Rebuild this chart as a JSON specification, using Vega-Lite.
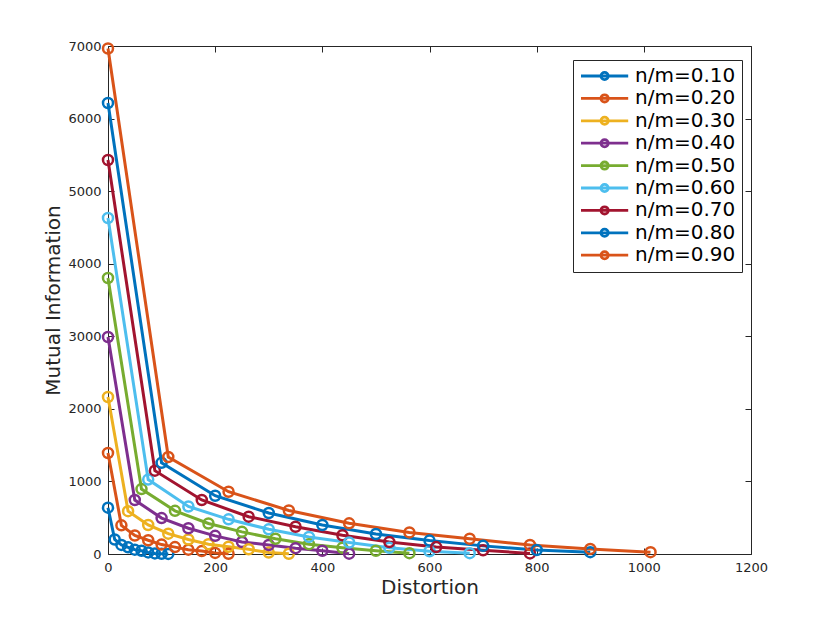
{
  "$schema": "https://vega.github.io/schema/vega-lite/v6.json",
  "width": 643,
  "height": 508,
  "autosize": "none",
  "padding": {"left": 108, "top": 46, "right": 79, "bottom": 69},
  "background": "white",
  "config": {
    "font": "DejaVu Sans",
    "view": {"stroke": null},
    "axis": {
      "grid": false,
      "domainColor": "#262626",
      "tickColor": "#262626",
      "labelColor": "#262626",
      "titleColor": "#262626",
      "labelFontSize": 13,
      "titleFontSize": 20,
      "titleFontWeight": "normal",
      "tickSize": -6,
      "labelPadding": 13,
      "labelFlush": false,
      "format": "d"
    },
    "legend": {
      "orient": "none",
      "legendX": 465,
      "legendY": 14,
      "title": null,
      "strokeColor": "#262626",
      "fillColor": "white",
      "padding": 6,
      "labelFontSize": 20,
      "labelColor": "black",
      "symbolType": "M-1,0H4.9M2.4,0A0.45,0.45 0 1,1 1.5,0A0.45,0.45 0 1,1 2.4,0",
      "symbolSize": 256,
      "symbolStrokeWidth": 2.8,
      "symbolFillColor": "transparent",
      "labelOffset": 36,
      "rowPadding": 2.4
    }
  },
  "data": {
    "values": [
      {"series": "n/m=0.10", "d": 0, "mi": 638},
      {"series": "n/m=0.10", "d": 12.5, "mi": 200},
      {"series": "n/m=0.10", "d": 25, "mi": 125},
      {"series": "n/m=0.10", "d": 37.5, "mi": 92},
      {"series": "n/m=0.10", "d": 50, "mi": 60},
      {"series": "n/m=0.10", "d": 62.5, "mi": 45},
      {"series": "n/m=0.10", "d": 75, "mi": 22},
      {"series": "n/m=0.10", "d": 87.5, "mi": 8},
      {"series": "n/m=0.10", "d": 100, "mi": 3},
      {"series": "n/m=0.10", "d": 112.5, "mi": 1},
      {"series": "n/m=0.20", "d": 0, "mi": 1392},
      {"series": "n/m=0.20", "d": 25, "mi": 395},
      {"series": "n/m=0.20", "d": 50, "mi": 255},
      {"series": "n/m=0.20", "d": 75, "mi": 190},
      {"series": "n/m=0.20", "d": 100, "mi": 130},
      {"series": "n/m=0.20", "d": 125, "mi": 95},
      {"series": "n/m=0.20", "d": 150, "mi": 60},
      {"series": "n/m=0.20", "d": 175, "mi": 40},
      {"series": "n/m=0.20", "d": 200, "mi": 15},
      {"series": "n/m=0.20", "d": 225, "mi": 3},
      {"series": "n/m=0.30", "d": 0, "mi": 2163},
      {"series": "n/m=0.30", "d": 37.5, "mi": 590},
      {"series": "n/m=0.30", "d": 75, "mi": 400},
      {"series": "n/m=0.30", "d": 112.5, "mi": 280},
      {"series": "n/m=0.30", "d": 150, "mi": 200},
      {"series": "n/m=0.30", "d": 187.5, "mi": 135},
      {"series": "n/m=0.30", "d": 225, "mi": 100},
      {"series": "n/m=0.30", "d": 262.5, "mi": 65},
      {"series": "n/m=0.30", "d": 300, "mi": 20},
      {"series": "n/m=0.30", "d": 337.5, "mi": 3},
      {"series": "n/m=0.40", "d": 0, "mi": 2990},
      {"series": "n/m=0.40", "d": 50, "mi": 744},
      {"series": "n/m=0.40", "d": 100, "mi": 495},
      {"series": "n/m=0.40", "d": 150, "mi": 355},
      {"series": "n/m=0.40", "d": 200, "mi": 250},
      {"series": "n/m=0.40", "d": 250, "mi": 165},
      {"series": "n/m=0.40", "d": 300, "mi": 124},
      {"series": "n/m=0.40", "d": 350, "mi": 80},
      {"series": "n/m=0.40", "d": 400, "mi": 45},
      {"series": "n/m=0.40", "d": 450, "mi": 5},
      {"series": "n/m=0.50", "d": 0, "mi": 3803},
      {"series": "n/m=0.50", "d": 62.5, "mi": 895},
      {"series": "n/m=0.50", "d": 125, "mi": 595},
      {"series": "n/m=0.50", "d": 187.5, "mi": 420},
      {"series": "n/m=0.50", "d": 250, "mi": 305},
      {"series": "n/m=0.50", "d": 312.5, "mi": 210},
      {"series": "n/m=0.50", "d": 375, "mi": 135},
      {"series": "n/m=0.50", "d": 437.5, "mi": 85},
      {"series": "n/m=0.50", "d": 500, "mi": 45},
      {"series": "n/m=0.50", "d": 562.5, "mi": 12},
      {"series": "n/m=0.60", "d": 0, "mi": 4630},
      {"series": "n/m=0.60", "d": 75, "mi": 1025},
      {"series": "n/m=0.60", "d": 150, "mi": 655},
      {"series": "n/m=0.60", "d": 225, "mi": 478},
      {"series": "n/m=0.60", "d": 300, "mi": 340},
      {"series": "n/m=0.60", "d": 375, "mi": 235},
      {"series": "n/m=0.60", "d": 450, "mi": 158},
      {"series": "n/m=0.60", "d": 525, "mi": 85},
      {"series": "n/m=0.60", "d": 600, "mi": 38},
      {"series": "n/m=0.60", "d": 675, "mi": 12},
      {"series": "n/m=0.70", "d": 0, "mi": 5429},
      {"series": "n/m=0.70", "d": 87.5, "mi": 1148},
      {"series": "n/m=0.70", "d": 175, "mi": 744},
      {"series": "n/m=0.70", "d": 262.5, "mi": 514},
      {"series": "n/m=0.70", "d": 350, "mi": 376},
      {"series": "n/m=0.70", "d": 437.5, "mi": 258},
      {"series": "n/m=0.70", "d": 525, "mi": 165},
      {"series": "n/m=0.70", "d": 612.5, "mi": 95},
      {"series": "n/m=0.70", "d": 700, "mi": 52},
      {"series": "n/m=0.70", "d": 787.5, "mi": 8},
      {"series": "n/m=0.80", "d": 0, "mi": 6215},
      {"series": "n/m=0.80", "d": 100, "mi": 1256},
      {"series": "n/m=0.80", "d": 200, "mi": 803},
      {"series": "n/m=0.80", "d": 300, "mi": 565},
      {"series": "n/m=0.80", "d": 400, "mi": 400},
      {"series": "n/m=0.80", "d": 500, "mi": 276},
      {"series": "n/m=0.80", "d": 600, "mi": 185},
      {"series": "n/m=0.80", "d": 700, "mi": 112},
      {"series": "n/m=0.80", "d": 800, "mi": 55},
      {"series": "n/m=0.80", "d": 900, "mi": 25},
      {"series": "n/m=0.90", "d": 0, "mi": 6965},
      {"series": "n/m=0.90", "d": 112.5, "mi": 1337},
      {"series": "n/m=0.90", "d": 225, "mi": 858},
      {"series": "n/m=0.90", "d": 337.5, "mi": 600},
      {"series": "n/m=0.90", "d": 450, "mi": 423},
      {"series": "n/m=0.90", "d": 562.5, "mi": 297},
      {"series": "n/m=0.90", "d": 675, "mi": 210},
      {"series": "n/m=0.90", "d": 787.5, "mi": 124},
      {"series": "n/m=0.90", "d": 900, "mi": 70},
      {"series": "n/m=0.90", "d": 1012.5, "mi": 25}
    ]
  },
  "resolve": {"axis": {"x": "independent", "y": "independent"}},
  "layer": [
    {
      "mark": {
        "type": "line",
        "strokeWidth": 3,
        "clip": false,
        "point": {"filled": false, "size": 100, "strokeWidth": 2.5}
      },
      "encoding": {
        "x": {
          "field": "d",
          "type": "quantitative",
          "title": "Distortion",
          "scale": {"domain": [0, 1200], "nice": false},
          "axis": {"orient": "bottom", "values": [0, 200, 400, 600, 800, 1000, 1200], "titlePadding": 3}
        },
        "y": {
          "field": "mi",
          "type": "quantitative",
          "title": "Mutual Information",
          "scale": {"domain": [0, 7000], "nice": false},
          "axis": {"orient": "left", "values": [0, 1000, 2000, 3000, 4000, 5000, 6000, 7000], "titlePadding": 4}
        },
        "color": {
          "field": "series",
          "type": "nominal",
          "scale": {
            "range": ["#0072BD", "#D95319", "#EDB120", "#7E2F8E", "#77AC30", "#4DBEEE", "#A2142F", "#0072BD", "#D95319"]
          }
        },
        "order": {"field": "d", "type": "quantitative"}
      }
    },
    {
      "mark": {"type": "point", "opacity": 0},
      "encoding": {
        "x": {
          "field": "d",
          "type": "quantitative",
          "axis": {"orient": "top", "labels": false, "title": null, "values": [0, 200, 400, 600, 800, 1000, 1200]}
        },
        "y": {
          "field": "mi",
          "type": "quantitative",
          "axis": {"orient": "right", "labels": false, "title": null, "values": [0, 1000, 2000, 3000, 4000, 5000, 6000, 7000]}
        }
      }
    }
  ]
}
